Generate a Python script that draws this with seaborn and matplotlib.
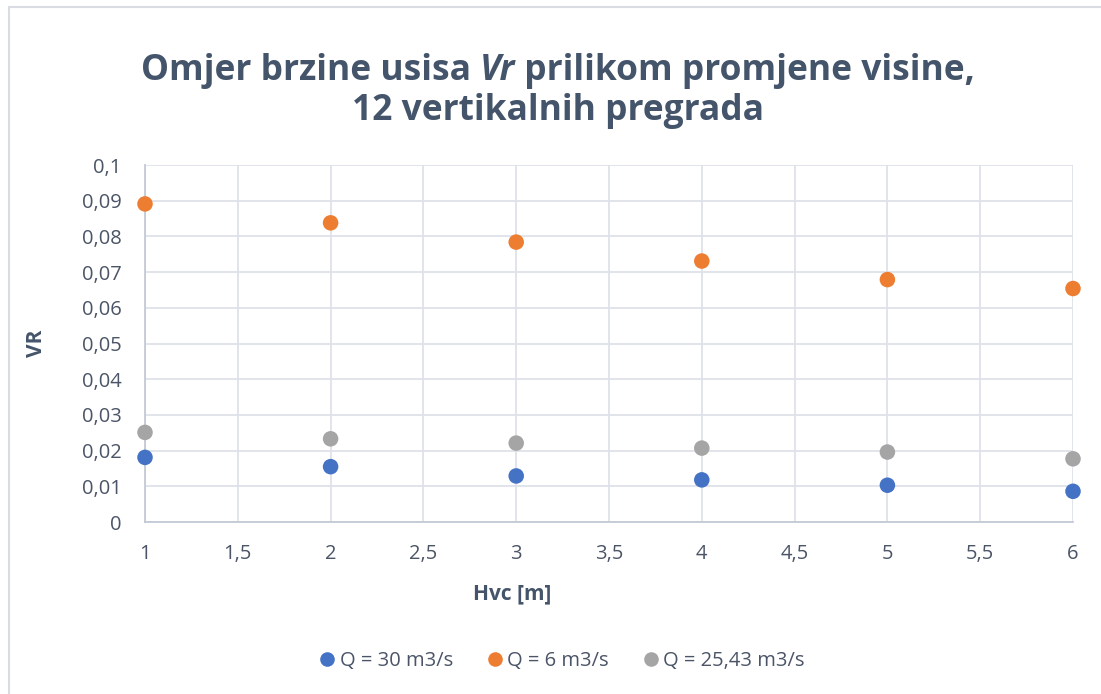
import matplotlib
matplotlib.use("Agg")
import matplotlib.pyplot as plt
from matplotlib.lines import Line2D
from matplotlib.ticker import FuncFormatter, MultipleLocator
import numpy as np
import pandas as pd
import seaborn as sns

# Heights of the intake (m)
hvc = [1, 2, 3, 4, 5, 6]

# Intake velocity ratio for each flow rate
vr_q30 = [0.0181, 0.0155, 0.0129, 0.0118, 0.0103, 0.0086]
vr_q6 = [0.0891, 0.0838, 0.0784, 0.0731, 0.0679, 0.0654]
vr_q2543 = [0.0251, 0.0233, 0.0221, 0.0207, 0.0196, 0.0177]

series_labels = ["Q = 30 m3/s", "Q = 6 m3/s", "Q = 25,43 m3/s"]
series_colors = ["#4472C4", "#ED7D31", "#A5A5A5"]

df = pd.concat(
    [
        pd.DataFrame({"Hvc": hvc, "VR": vals, "serija": lab})
        for vals, lab in zip([vr_q30, vr_q6, vr_q2543], series_labels)
    ],
    ignore_index=True,
)

sns.set_theme(style="white")
plt.rcParams["font.family"] = ["Open Sans", "DejaVu Sans"]

text_col = "#44546A"
tick_col = "#4B5567"
grid_col = "#DEE2E8"
spine_col = "#C3CAD6"

W, H = 1101, 694
fig = plt.figure(figsize=(W / 100, H / 100), dpi=100)
fig.patch.set_facecolor("white")

ax = fig.add_axes([145 / W, 1 - 522 / H, (1073 - 145) / W, (522 - 165) / H])

sns.scatterplot(
    data=df, x="Hvc", y="VR", hue="serija", palette=series_colors,
    s=125, edgecolor="none", legend=False, ax=ax, clip_on=False, zorder=5,
)

ax.set_xlim(1, 6)
ax.set_ylim(0, 0.1)
ax.xaxis.set_major_locator(MultipleLocator(0.5))
ax.yaxis.set_major_locator(MultipleLocator(0.01))


def comma_fmt(v, pos):
    s = f"{v:.2f}".rstrip("0").rstrip(".")
    if s in ("-0", ""):
        s = "0"
    return s.replace(".", ",")


ax.xaxis.set_major_formatter(FuncFormatter(comma_fmt))
ax.yaxis.set_major_formatter(FuncFormatter(comma_fmt))

ax.grid(True, color=grid_col, linewidth=1.3)
ax.set_axisbelow(True)
for side in ("top", "right"):
    ax.spines[side].set_visible(False)
for side in ("left", "bottom"):
    ax.spines[side].set_color(spine_col)
    ax.spines[side].set_linewidth(1.3)

ax.tick_params(axis="both", length=0, labelsize=14.5, colors=tick_col)
ax.tick_params(axis="x", pad=16)
ax.tick_params(axis="y", pad=17)
ax.set_xlabel("")
ax.set_ylabel("")

# Axis titles
fig.text(512 / W, 1 - 594 / H, "Hvc [m]", ha="center", va="center",
         fontsize=15, fontweight="bold", color=text_col)
fig.text(36 / W, 1 - 343 / H, "VR", ha="center", va="center", rotation=90,
         fontsize=15, fontweight="bold", color=text_col)

# Chart title with the italic symbol
title_kw = dict(fontsize=25.5, fontweight="bold", color=text_col, va="center")
l1a = "Omjer brzine usisa "
l1b = "Vr"
l1c = " prilikom promjene visine,"
renderer = fig.canvas.get_renderer()
parts = [(l1a, "normal"), (l1b, "italic"), (l1c, "normal")]
widths = []
for txt, st in parts:
    t = fig.text(0, 0, txt, style=st, **title_kw)
    widths.append(t.get_window_extent(renderer).width)
    t.remove()
x0 = 558 - sum(widths) / 2
y1 = 1 - 71 / H
for (txt, st), w in zip(parts, widths):
    fig.text(x0 / W, y1, txt, style=st, ha="left", **title_kw)
    x0 += w
fig.text(558 / W, 1 - 111 / H, "12 vertikalnih pregrada", ha="center", **title_kw)

# Legend below the plot
handles = [
    Line2D([], [], marker="o", linestyle="none", markersize=10.5,
           markerfacecolor=c, markeredgecolor="none")
    for c in series_colors
]
fig.legend(handles, series_labels, loc="center", bbox_to_anchor=(561 / W, 1 - 661 / H),
           ncol=3, frameon=False, fontsize=14.5, labelcolor=tick_col,
           handletextpad=0.1, columnspacing=1.6, handlelength=1.0)

# Chart frame
fig.add_artist(Line2D([9 / W, 1], [1 - 7 / H, 1 - 7 / H], transform=fig.transFigure,
                      color="#D9DDE3", linewidth=1.5))
fig.add_artist(Line2D([9 / W, 9 / W], [0, 1 - 7 / H], transform=fig.transFigure,
                      color="#D9DDE3", linewidth=1.5))

fig.savefig("out.png", dpi=100, facecolor="white")
